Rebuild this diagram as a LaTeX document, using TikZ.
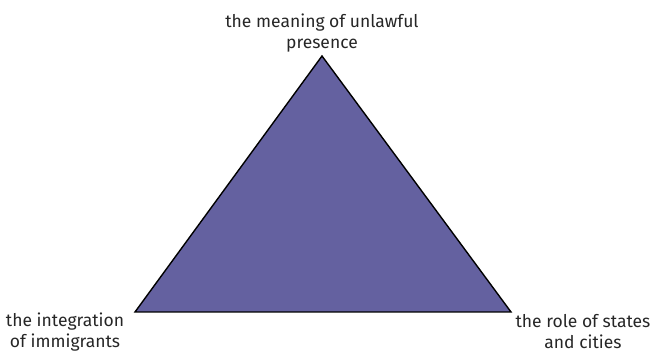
\documentclass[tikz,border=0pt]{standalone}
\usepackage{fontspec}
\setmainfont{Fira Sans}
\usepackage{tikz}
\usetikzlibrary{positioning,calc}
\definecolor{triblue}{RGB}{100,97,160}
\tikzset{
  vlabel/.style={align=center, font=\fontsize{17.5}{21}\selectfont, text=black!85, inner sep=0pt},
  triface/.style={draw=black, line width=1.4pt, fill=triblue, line join=miter},
}

\begin{document}
\begin{tikzpicture}[x=1pt, y=1pt]
    \useasboundingbox (0,0) rectangle (651,353);
    \coordinate (apex)  at (322,297);
    \coordinate (left)  at (135,41);
    \coordinate (right) at (511,41);
    \draw[triface] (apex) -- (left) -- (right) -- cycle;
    \node[vlabel, above=4pt of apex] (meaning) {the meaning of unlawful\\presence};
    \node[vlabel] (integr) at (65,21) {the integration\\of immigrants};
    \node[vlabel] (states) at (583,21) {the role of states\\and cities};
  \end{tikzpicture}
\end{document}
